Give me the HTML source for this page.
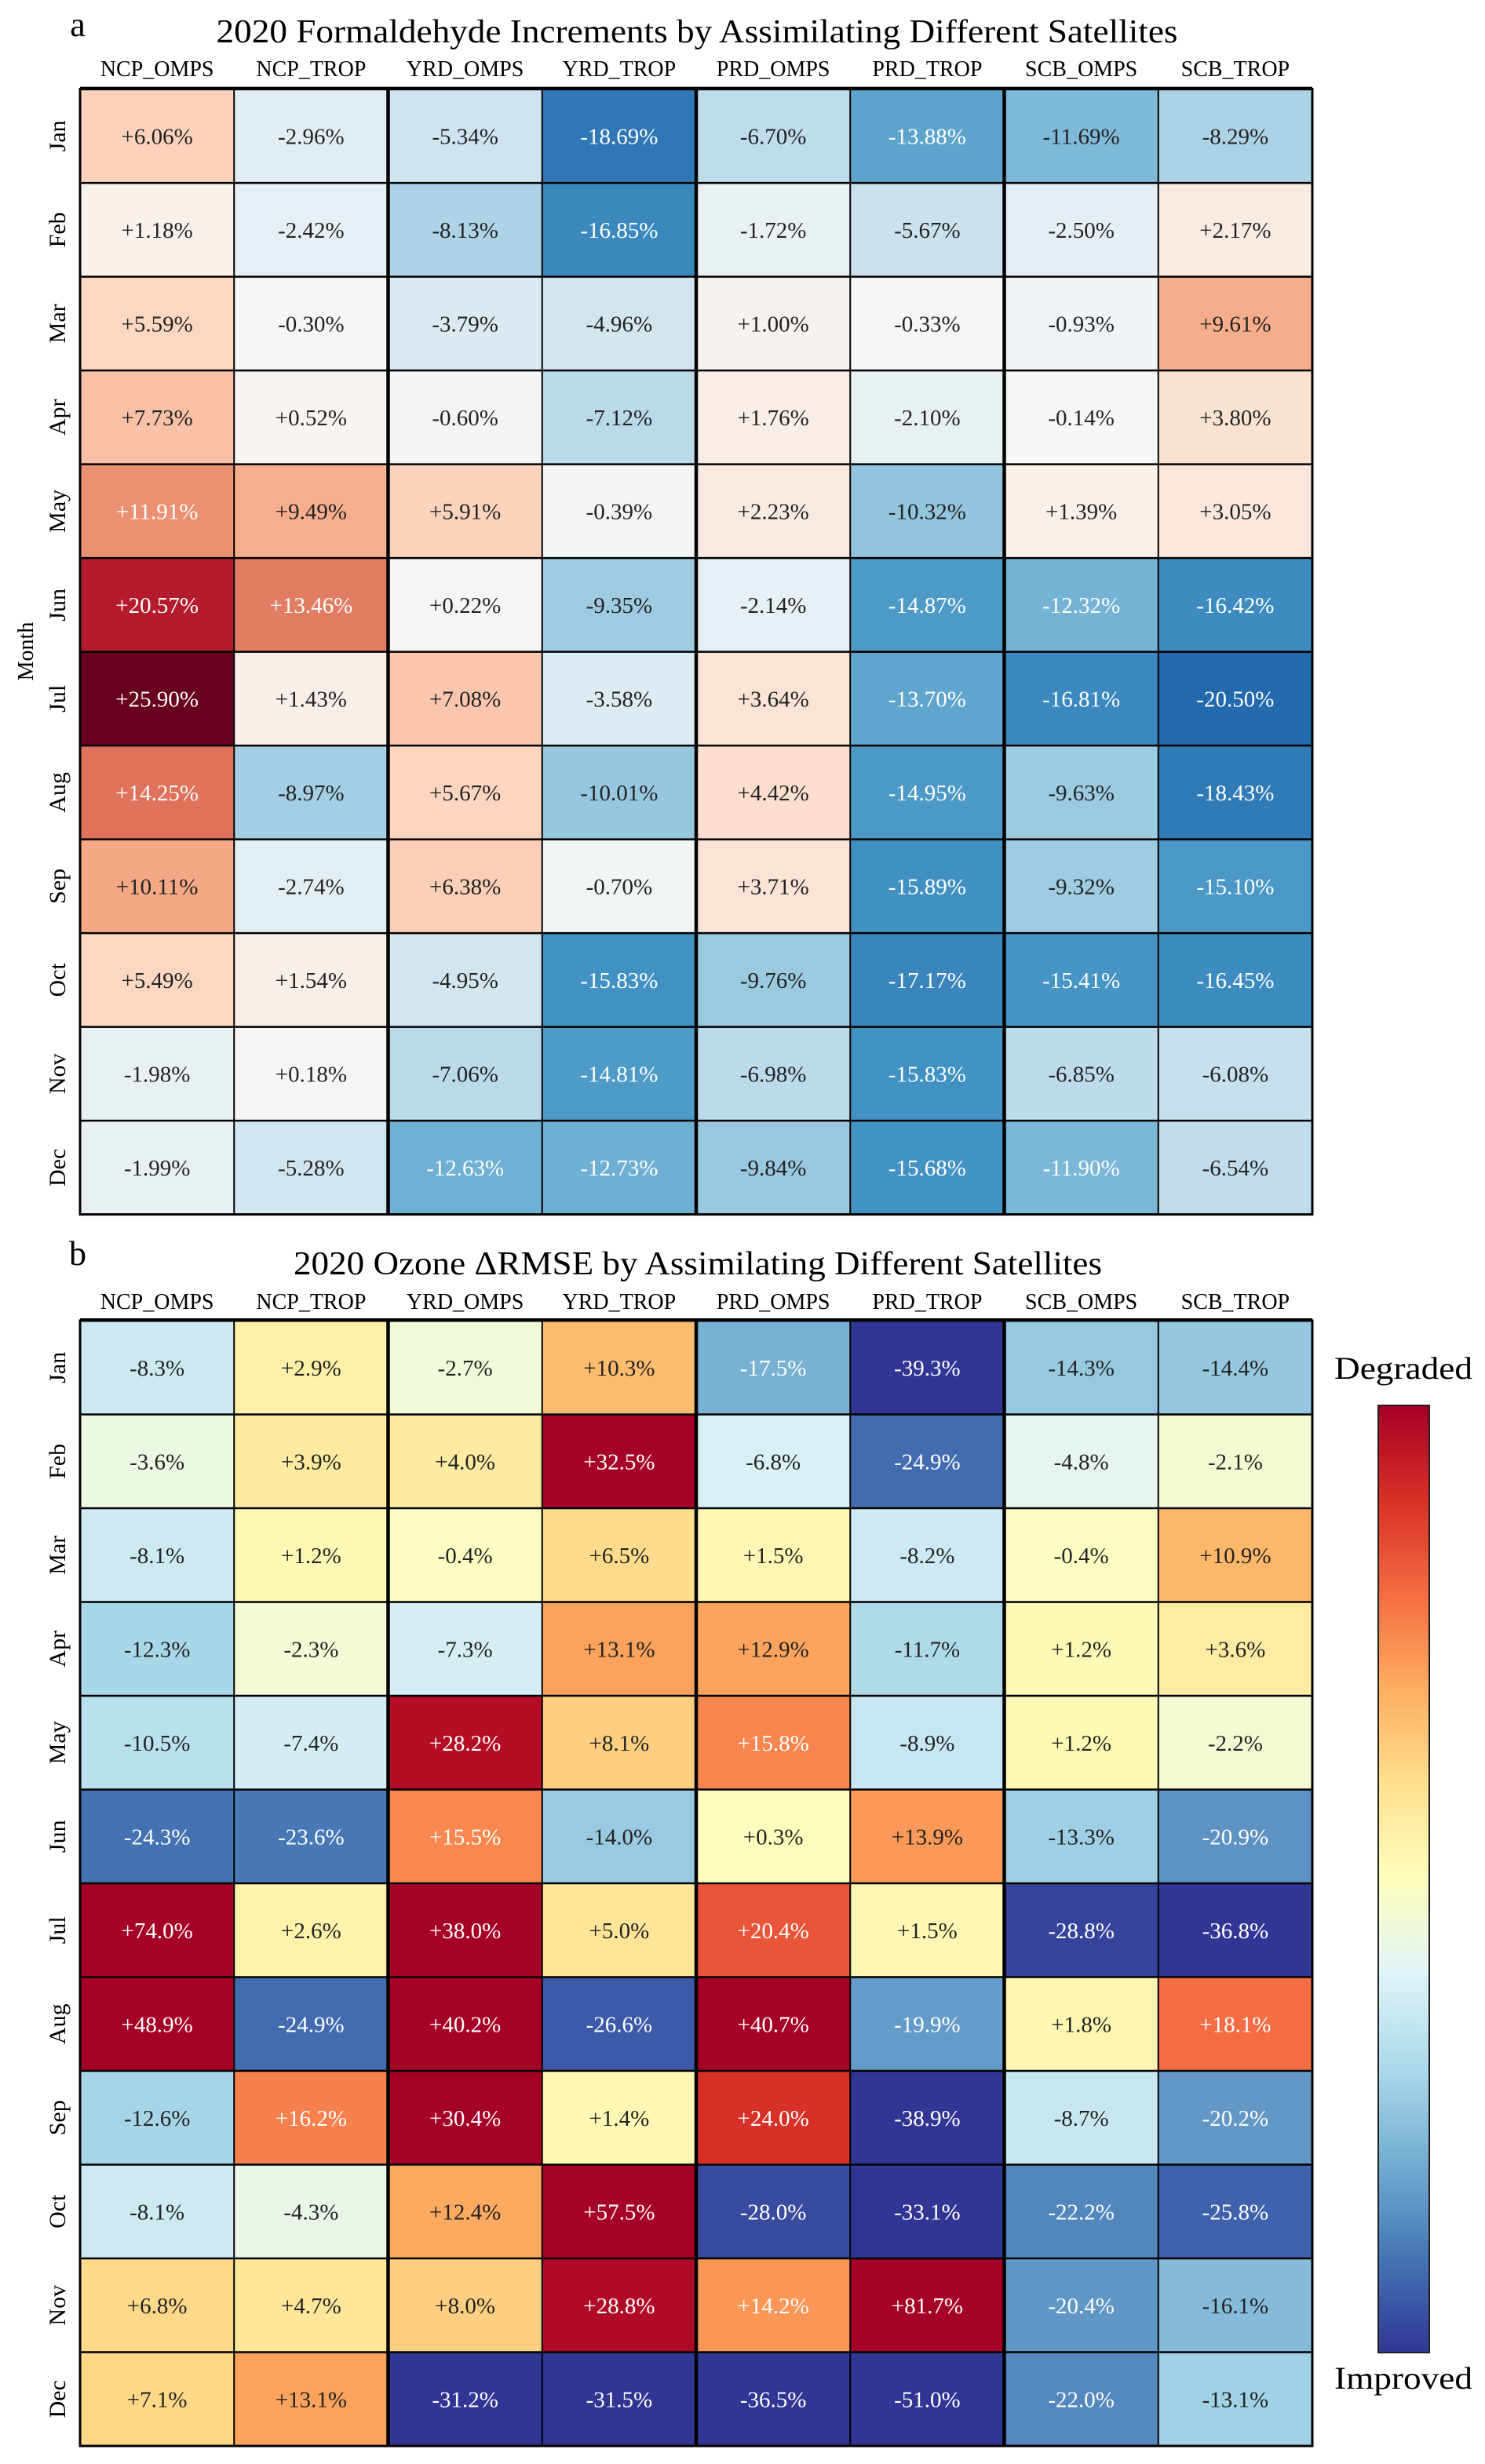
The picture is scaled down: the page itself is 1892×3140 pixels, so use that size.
<!DOCTYPE html>
<html><head><meta charset="utf-8">
<style>
html,body{margin:0;padding:0;background:#fff;}
svg{display:block;font-family:"Liberation Serif",serif;}
svg text{font-family:"Liberation Serif","Times New Roman",serif;}
</style></head>
<body>
<svg id="fig" width="1892" height="3140" viewBox="0 0 1892 3140" xmlns="http://www.w3.org/2000/svg">
  <text x="99" y="46" font-size="44" text-anchor="middle">a</text>
  <text x="888" y="54" font-size="42" text-anchor="middle" textLength="1225" lengthAdjust="spacingAndGlyphs">2020 Formaldehyde Increments by Assimilating Different Satellites</text>
  <text x="99" y="1612" font-size="44" text-anchor="middle">b</text>
  <text x="889" y="1624" font-size="42" text-anchor="middle" textLength="1030" lengthAdjust="spacingAndGlyphs">2020 Ozone ΔRMSE by Assimilating Different Satellites</text>
  <text transform="translate(42,830) rotate(-90)" font-size="28" text-anchor="middle">Month</text>
  <g id="pa"></g>
  <g id="pb"></g>
  <defs>
    <linearGradient id="cbg" x1="0" y1="0" x2="0" y2="1">
      <stop offset="0" stop-color="#a50026"/><stop offset="0.1" stop-color="#d73027"/>
      <stop offset="0.2" stop-color="#f46d43"/><stop offset="0.3" stop-color="#fdae61"/>
      <stop offset="0.4" stop-color="#fee090"/><stop offset="0.5" stop-color="#ffffbf"/>
      <stop offset="0.6" stop-color="#e0f3f8"/><stop offset="0.7" stop-color="#abd9e9"/>
      <stop offset="0.8" stop-color="#74add1"/><stop offset="0.9" stop-color="#4575b4"/>
      <stop offset="1" stop-color="#313695"/>
    </linearGradient>
  </defs>
  <rect x="1756" y="1791" width="65" height="1207" fill="url(#cbg)" stroke="#222" stroke-width="2"/>
  <text x="1788" y="1757" font-size="40" text-anchor="middle" textLength="176" lengthAdjust="spacingAndGlyphs">Degraded</text>
  <text x="1788" y="3044" font-size="40" text-anchor="middle" textLength="176" lengthAdjust="spacingAndGlyphs">Improved</text>
</svg>
<script>
const columns = ["NCP_OMPS","NCP_TROP","YRD_OMPS","YRD_TROP","PRD_OMPS","PRD_TROP","SCB_OMPS","SCB_TROP"];
const months = ["Jan","Feb","Mar","Apr","May","Jun","Jul","Aug","Sep","Oct","Nov","Dec"];
const hchoValues = [
 [6.06,-2.96,-5.34,-18.69,-6.70,-13.88,-11.69,-8.29],
 [1.18,-2.42,-8.13,-16.85,-1.72,-5.67,-2.50,2.17],
 [5.59,-0.30,-3.79,-4.96,1.00,-0.33,-0.93,9.61],
 [7.73,0.52,-0.60,-7.12,1.76,-2.10,-0.14,3.80],
 [11.91,9.49,5.91,-0.39,2.23,-10.32,1.39,3.05],
 [20.57,13.46,0.22,-9.35,-2.14,-14.87,-12.32,-16.42],
 [25.90,1.43,7.08,-3.58,3.64,-13.70,-16.81,-20.50],
 [14.25,-8.97,5.67,-10.01,4.42,-14.95,-9.63,-18.43],
 [10.11,-2.74,6.38,-0.70,3.71,-15.89,-9.32,-15.10],
 [5.49,1.54,-4.95,-15.83,-9.76,-17.17,-15.41,-16.45],
 [-1.98,0.18,-7.06,-14.81,-6.98,-15.83,-6.85,-6.08],
 [-1.99,-5.28,-12.63,-12.73,-9.84,-15.68,-11.90,-6.54]
];
const ozoneValues = [
 [-8.3,2.9,-2.7,10.3,-17.5,-39.3,-14.3,-14.4],
 [-3.6,3.9,4.0,32.5,-6.8,-24.9,-4.8,-2.1],
 [-8.1,1.2,-0.4,6.5,1.5,-8.2,-0.4,10.9],
 [-12.3,-2.3,-7.3,13.1,12.9,-11.7,1.2,3.6],
 [-10.5,-7.4,28.2,8.1,15.8,-8.9,1.2,-2.2],
 [-24.3,-23.6,15.5,-14.0,0.3,13.9,-13.3,-20.9],
 [74.0,2.6,38.0,5.0,20.4,1.5,-28.8,-36.8],
 [48.9,-24.9,40.2,-26.6,40.7,-19.9,1.8,18.1],
 [-12.6,16.2,30.4,1.4,24.0,-38.9,-8.7,-20.2],
 [-8.1,-4.3,12.4,57.5,-28.0,-33.1,-22.2,-25.8],
 [6.8,4.7,8.0,28.8,14.2,81.7,-20.4,-16.1],
 [7.1,13.1,-31.2,-31.5,-36.5,-51.0,-22.0,-13.1]
];
const hchoRange = [-26, 26];
const ozoneRange = [-30, 30];

const RdBu_r = ["#053061","#2166ac","#4393c3","#92c5de","#d1e5f0","#f7f7f7","#fddbc7","#f4a582","#d6604d","#b2182b","#67001f"];
const RdYlBu_r = ["#313695","#4575b4","#74add1","#abd9e9","#e0f3f8","#ffffbf","#fee090","#fdae61","#f46d43","#d73027","#a50026"];
function hex(h){return [1,3,5].map(i=>parseInt(h.substr(i,2),16));}
function cmap(stops,t){
  t=Math.max(0,Math.min(1,t));
  const p=t*(stops.length-1), i=Math.min(stops.length-2,Math.floor(p)), f=p-i;
  const a=hex(stops[i]), b=hex(stops[i+1]);
  return a.map((v,k)=>Math.round(v+(b[k]-v)*f));
}
function lum(c){const l=c.map(v=>{v/=255;return v<=0.03928?v/12.92:Math.pow((v+0.055)/1.055,2.4);});return 0.2126*l[0]+0.7152*l[1]+0.0722*l[2];}
const NS="http://www.w3.org/2000/svg";
const FF='"Liberation Serif", serif';
function mk(tag,attrs,parent){const e=document.createElementNS(NS,tag);for(const k in attrs)e.setAttribute(k,attrs[k]);parent.appendChild(e);return e;}

function drawHeatmap(gid,values,range,stops,top,labelY,decimals){
  const g=document.getElementById(gid);
  const left=102, right=1672, bottom=top+12*119.5;
  const cw=(right-left)/columns.length, rh=(bottom-top)/months.length;
  const xs=c=>left+c*cw, ys=r=>top+r*rh;
  columns.forEach((name,c)=>{
    const t=mk('text',{x:xs(c)+cw/2,y:labelY,'font-size':28,'text-anchor':'middle','font-family':FF},g);
    
    
    t.textContent=name;
  });
  months.forEach((m,r)=>{
    const t=mk('text',{transform:`translate(${83},${ys(r)+rh/2}) rotate(-90)`,'font-size':30,'text-anchor':'middle','font-family':FF},g);
    
    
    t.textContent=m;
    columns.forEach((name,c)=>{
      const v=values[r][c];
      const col=cmap(stops,(v-range[0])/(range[1]-range[0]));
      const rect=mk('rect',{x:xs(c),y:ys(r),width:cw,height:rh,fill:`rgb(${col.join(',')})`},g);
      
      
      const tx=mk('text',{x:xs(c)+cw/2,y:ys(r)+rh/2+10,'font-size':29,'text-anchor':'middle','font-family':FF,fill:lum(col)<0.43?'#fff':'#222'},g);
      
      
      tx.textContent=(v>=0?'+':'')+v.toFixed(decimals)+'%';
    });
  });
  for(let r=1;r<months.length;r++){
    const l=mk('line',{x1:left,x2:right,y1:ys(r),y2:ys(r),stroke:'#000','stroke-width':2.5},g);
    
    
  }
  for(let c=1;c<columns.length;c++){
    const l=mk('line',{x1:xs(c),x2:xs(c),y1:top,y2:bottom,stroke:'#000','stroke-width':c%2===0?4.5:2},g);
    
    
  }
  const fr=mk('rect',{x:left,y:top,width:right-left,height:bottom-top,fill:'none',stroke:'#000','stroke-width':3},g);
  
  
  const tl=mk('line',{x1:left,x2:right,y1:top-1,y2:top-1,stroke:'#000','stroke-width':4},g);
  
  
}
drawHeatmap('pa',hchoValues,hchoRange,RdBu_r,113.6,97,2);
drawHeatmap('pb',ozoneValues,ozoneRange,RdYlBu_r,1683,1668,1);
</script>
</body></html>
